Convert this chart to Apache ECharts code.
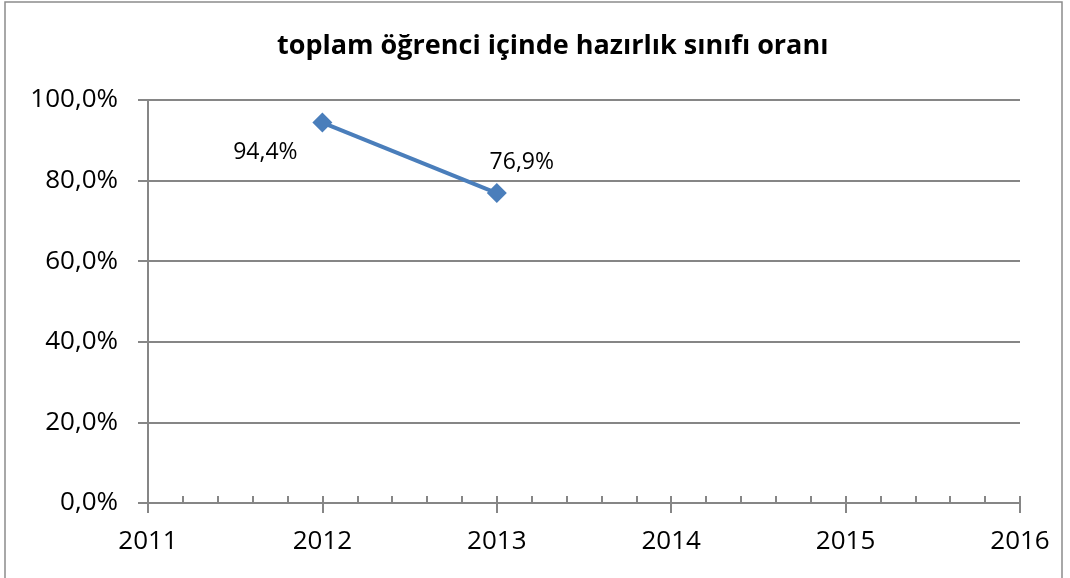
<!DOCTYPE html>
<html>
<head>
<meta charset="utf-8">
<script src="https://cdn.jsdelivr.net/npm/echarts@6/dist/echarts.min.js"></script>
<style>
  html, body { margin: 0; padding: 0; background: #fff; }
  #chart { width: 1070px; height: 578px; }
</style>
</head>
<body>
<div id="chart"></div>
<script>
const years = [2012, 2013];
const ratios = [94.4, 76.9];
const yTicks = [0, 20, 40, 60, 80, 100];

const chart = echarts.init(document.getElementById('chart'));
const font = '"Open Sans", sans-serif';
const fmtPct = v => v.toFixed(1).replace('.', ',') + '%';

// label offsets relative to 'top' position of each point
const labelOffsets = [[-57, 56], [25, -4]];

const option = {
  animation: false,
  graphic: [{
    type: 'rect',
    shape: { x: 5, y: 2, width: 1057, height: 590 },
    style: { fill: 'none', stroke: '#8c8c8c', lineWidth: 1.5 },
    silent: true
  }],
  title: {
    text: 'toplam öğrenci içinde hazırlık sınıfı oranı',
    left: 272,
    top: 28,
    textStyle: { fontFamily: font, fontWeight: 'bold', fontSize: 27, color: '#000' }
  },
  grid: { left: 148, right: 50, top: 100, bottom: 75 },
  xAxis: [
    {
      type: 'value', min: 2011, max: 2016, interval: 1,
      axisLine: { lineStyle: { color: '#868686', width: 2 } },
      axisTick: { show: true, inside: true, length: 7, lineStyle: { color: '#868686', width: 2 } },
      minorTick: { show: true, splitNumber: 5, length: 7, lineStyle: { color: '#868686', width: 2 } },
      splitLine: { show: false },
      axisLabel: { fontFamily: font, fontSize: 26, color: '#000', margin: 26, formatter: v => String(v) }
    },
    {
      type: 'value', min: 2011, max: 2016, interval: 1, position: 'bottom',
      axisLine: { show: false },
      axisTick: { show: true, length: 10, lineStyle: { color: '#868686', width: 2 } },
      axisLabel: { show: false },
      splitLine: { show: false }
    }
  ],
  yAxis: {
    type: 'value', min: yTicks[0], max: yTicks[yTicks.length - 1], interval: 20,
    axisLine: { show: true, lineStyle: { color: '#868686', width: 2 } },
    axisTick: { show: true, length: 10, lineStyle: { color: '#868686', width: 2 } },
    splitLine: { lineStyle: { color: '#868686', width: 2 } },
    axisLabel: { fontFamily: font, fontSize: 26, color: '#000', margin: 30, formatter: fmtPct }
  },
  series: [{
    type: 'line',
    data: years.map((y, i) => ({
      value: [y, ratios[i]],
      label: { offset: labelOffsets[i] }
    })),
    symbol: 'diamond',
    symbolSize: 20,
    itemStyle: { color: '#4a7ebb' },
    lineStyle: { color: '#4a7ebb', width: 4 },
    label: {
      show: true, position: 'top',
      fontFamily: font, fontSize: 23, color: '#000',
      formatter: p => fmtPct(p.value[1])
    }
  }]
};
chart.setOption(option);
</script>
</body>
</html>
